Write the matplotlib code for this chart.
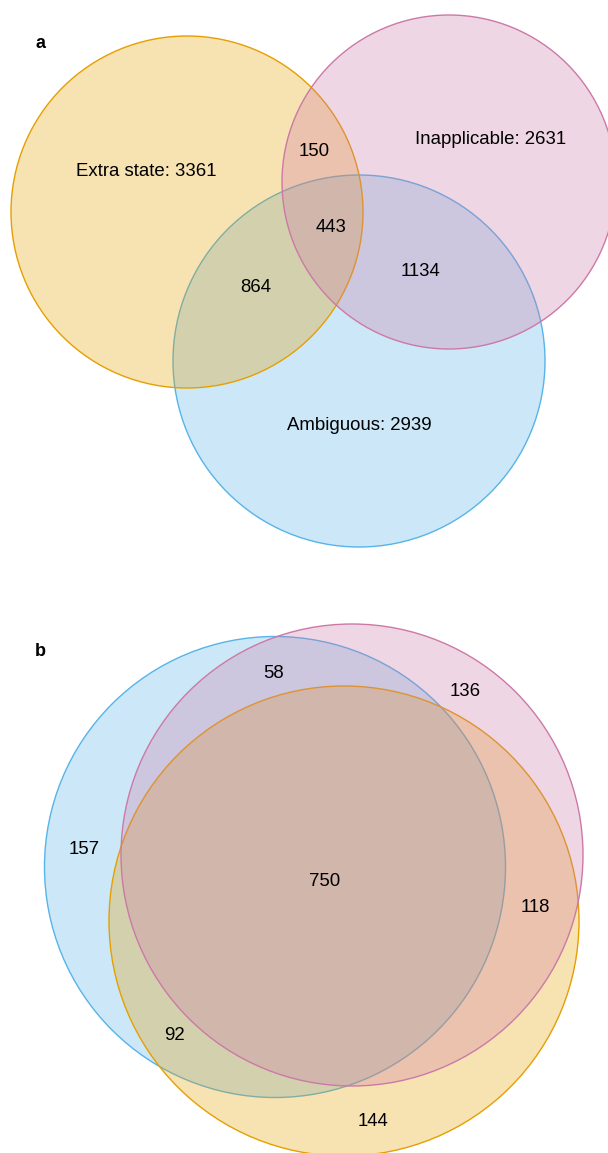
import matplotlib
matplotlib.use("Agg")
import matplotlib.pyplot as plt
from matplotlib.patches import Circle

plt.rcParams['font.family'] = ['Liberation Sans', 'DejaVu Sans']

# ---- data ----
# Panel a
a_set_names = ["Extra state", "Inapplicable", "Ambiguous"]
a_set_totals = [3361, 2631, 2939]
a_region_labels = ["150", "443", "864", "1134"]
# Panel b
b_region_labels = ["58", "136", "157", "750", "118", "92", "144"]

# ---- layout (pixel space of a 608 x 1153 canvas) ----
ORANGE, PINK, BLUE = "#E69F00", "#CC79A7", "#56B4E9"
# drawing order: blue, orange, pink
a_circles = [((359, 361), 186, BLUE), ((187, 212), 176, ORANGE), ((449, 182), 167, PINK)]
a_set_pos = [(146, 171), (491, 139), (359, 426)]
a_region_pos = [(314, 151), (331, 228), (256, 288), (420, 271)]

b_circles = [((275, 867), 230.5, BLUE), ((344, 921), 235, ORANGE), ((352, 855), 231, PINK)]
b_region_pos = [(274, 674), (465, 691), (84, 849), (325, 882), (535, 907), (174, 1035), (373, 1122)]

W, H = 608, 1153
fig = plt.figure(figsize=(W / 100, H / 100), dpi=100)
ax = fig.add_axes([0, 0, 1, 1])
ax.set_xlim(0, W)
ax.set_ylim(H, 0)
ax.set_aspect('equal')
ax.axis('off')

FS = 13.4

for circles in (a_circles, b_circles):
    for (c, r, col) in circles:
        ax.add_patch(Circle(c, r, facecolor=col, alpha=0.3, edgecolor='none'))
        ax.add_patch(Circle(c, r, facecolor='none', edgecolor=col, linewidth=1.0))

for name, tot, (x, y) in zip(a_set_names, a_set_totals, a_set_pos):
    ax.text(x, y, f"{name}: {tot}", ha='center', va='center', fontsize=FS)
for lab, (x, y) in zip(a_region_labels, a_region_pos):
    ax.text(x, y, lab, ha='center', va='center', fontsize=FS)
for lab, (x, y) in zip(b_region_labels, b_region_pos):
    ax.text(x, y, lab, ha='center', va='center', fontsize=FS)

ax.text(40, 43, "a", ha='center', va='center', fontsize=13, fontweight='bold')
ax.text(40, 651, "b", ha='center', va='center', fontsize=13, fontweight='bold')

fig.savefig("out.png", dpi=100)
